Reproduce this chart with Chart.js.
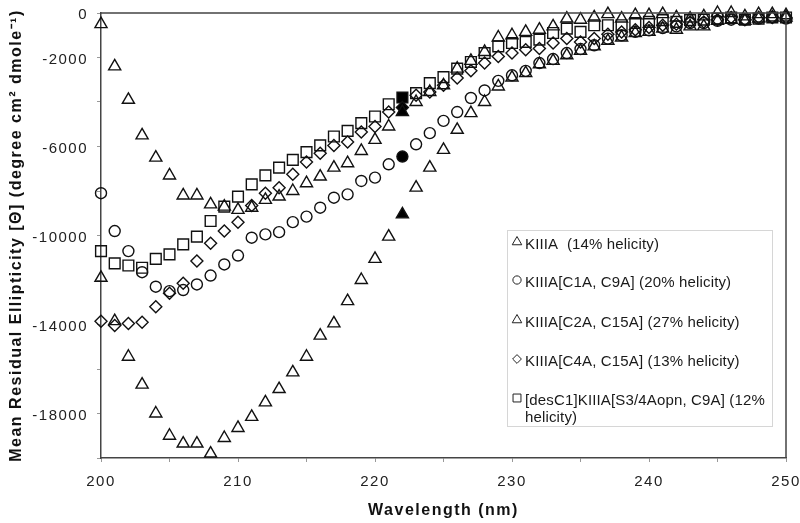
<!DOCTYPE html>
<html><head><meta charset="utf-8">
<script src="https://cdn.jsdelivr.net/npm/chart.js@4/dist/chart.umd.min.js"></script>
<style>html,body{margin:0;padding:0;background:#fff}</style>
</head><body>
<canvas id="c" width="800" height="523"></canvas>
<script>
// ---- data ----
const wavelengths = [200,201,202,203,204,205,206,207,208,209,210,211,212,213,214,215,216,217,218,219,220,
  221,222,223,224,225,226,227,228,229,230,231,232,233,234,235,236,237,238,239,240,
  241,242,243,244,245,246,247,248,249,250];

const kiiia = [-500,-2400,-3900,-5500,-6500,-7300,-8200,-8200,-8600,-8700,-8850,
  -8750,-8400,-8250,-8000,-7650,-7350,-6950,-6750,-6200,-5700,
  -5100,-4450,-4000,-3550,-3250,-2500,-2150,-1750,-1100,-1000,
  -850,-750,-600,-250,-300,-200,-50,-250,-100,-100,
  -50,-200,-250,-150,0,0,-150,-50,-50,-100];

const c1aC9a = [-8100,-9800,-10700,-11650,-12300,-12500,-12450,-12200,-11800,-11300,-10900,
  -10100,-9950,-9850,-9400,-9150,-8750,-8300,-8150,-7550,-7400,
  -6800,-6450,-5900,-5400,-4850,-4450,-3820,-3480,-3050,-2800,
  -2600,-2250,-2070,-1800,-1620,-1450,-1150,-1000,-850,-780,
  -680,-600,-450,-450,-350,-300,-300,-250,-200,-250];

const c2aC15a = [-11900,-13850,-15450,-16700,-18000,-19000,-19350,-19350,-19800,-19100,-18650,
  -18150,-17500,-16900,-16150,-15450,-14500,-13950,-12950,-12000,-11050,
  -10050,-9050,-7850,-6950,-6150,-5250,-4500,-4000,-3300,-2900,
  -2700,-2300,-2150,-1900,-1700,-1500,-1250,-1100,-900,-850,
  -700,-750,-600,-600,-350,-300,-350,-250,-200,-200];

const c4aC15a = [-13850,-14050,-13950,-13900,-13200,-12600,-12150,-11150,-10350,-9800,-9400,
  -8650,-8100,-7850,-7250,-6700,-6300,-5950,-5800,-5350,-5100,
  -4450,-4250,-3700,-3550,-3250,-2920,-2600,-2250,-1950,-1800,
  -1650,-1600,-1350,-1150,-1300,-1150,-950,-850,-750,-650,
  -550,-500,-400,-400,-300,-200,-300,-200,-200,-200];

const desC1 = [-10700,-11250,-11350,-11450,-11050,-10850,-10400,-10050,-9350,-8700,-8250,
  -7700,-7300,-6950,-6600,-6250,-5950,-5550,-5300,-4950,-4650,
  -4100,-3800,-3600,-3150,-2880,-2500,-2200,-1800,-1500,-1350,
  -1300,-1200,-900,-700,-850,-550,-550,-550,-450,-400,
  -320,-400,-320,-300,-250,-200,-300,-250,-200,-200];

const seriesNames = [
  ['KIIIA  (14% helicity)'],
  ['KIIIA[C1A, C9A] (20% helicity)'],
  ['KIIIA[C2A, C15A] (27% helicity)'],
  ['KIIIA[C4A, C15A] (13% helicity)'],
  ['[desC1]KIIIA[S3/4Aopn, C9A] (12%', 'helicity)']
];
const seriesValues = [kiiia, c1aC9a, c2aC15a, c4aC15a, desC1];
const seriesMarkers = ['triangle', 'circle', 'triangle', 'rectRot', 'rect'];
const highlightWavelength = 222;

const xTickLabels = [200, 210, 220, 230, 240, 250];
const yTickLabels = [0, -2000, -6000, -10000, -14000, -18000];

// ---- styles ----
const FONT = 'Arial, "Liberation Sans", sans-serif';
const markerRadius = {triangle: 7, circle: 5.5, rectRot: 6, rect: 7.6};

const datasets = seriesValues.map((vals, s) => ({
  label: seriesNames[s].join(' '),
  data: wavelengths.map((w, i) => ({x: w, y: vals[i]})),
  pointStyle: seriesMarkers[s],
  pointRadius: markerRadius[seriesMarkers[s]],
  pointHoverRadius: markerRadius[seriesMarkers[s]],
  borderColor: '#111',
  borderWidth: 1.4,
  backgroundColor: ctx => (ctx.raw && ctx.raw.x === highlightWavelength) ? '#000' : 'rgba(0,0,0,0)',
  showLine: false,
  clip: false
}));

function drawMarker(ctx, style, x, y, r) {
  ctx.beginPath();
  if (style === 'triangle') {
    ctx.moveTo(x, y - r);
    ctx.lineTo(x + r * Math.sin(2*Math.PI/3), y - r * Math.cos(2*Math.PI/3));
    ctx.lineTo(x + r * Math.sin(4*Math.PI/3), y - r * Math.cos(4*Math.PI/3));
    ctx.closePath();
  } else if (style === 'circle') {
    ctx.arc(x, y, r * 0.75, 0, Math.PI * 2);
  } else if (style === 'rectRot') {
    ctx.moveTo(x, y - r * 0.8); ctx.lineTo(x + r * 0.8, y);
    ctx.lineTo(x, y + r * 0.8); ctx.lineTo(x - r * 0.8, y);
    ctx.closePath();
  } else {
    const h = r * 0.72;
    ctx.rect(x - h, y - h, 2 * h, 2 * h);
  }
  ctx.stroke();
}

const frameAndLegend = {
  id: 'frameAndLegend',
  beforeDraw(chart) {
    chart.ctx.letterSpacing = '1.5px';
  },
  afterDraw(chart) {
    const ctx = chart.ctx, a = chart.chartArea;
    ctx.letterSpacing = '0px';
    ctx.save();
    // frame top/right
    ctx.strokeStyle = '#444'; ctx.lineWidth = 1.5;
    ctx.beginPath();
    ctx.moveTo(a.left, a.top); ctx.lineTo(a.right, a.top); ctx.lineTo(a.right, a.bottom);
    ctx.stroke();
    // legend box
    const bx = a.right - 279, by = a.top + 217, bw = 265, bh = 196;
    ctx.strokeStyle = '#d6d6d6'; ctx.lineWidth = 1;
    ctx.strokeRect(bx + 0.5, by + 0.5, bw, bh);
    const rowY = [245, 283, 323, 362, 401];
    ctx.font = '15px ' + FONT;
    ctx.letterSpacing = '0.15px';
    ctx.fillStyle = '#1a1a1a';
    ctx.textBaseline = 'middle';
    ctx.textAlign = 'left';
    seriesNames.forEach((lines, s) => {
      const y = rowY[s];
      ctx.strokeStyle = '#222'; ctx.lineWidth = 1;
      drawMarker(ctx, seriesMarkers[s], bx + 10, y - 3, 5.5);
      lines.forEach((t, k) => ctx.fillText(t, bx + 18, y + k * 17));
    });
    ctx.restore();
  }
};

new Chart(document.getElementById('c'), {
  type: 'scatter',
  data: {datasets},
  plugins: [frameAndLegend],
  options: {
    responsive: false,
    devicePixelRatio: 1,
    animation: false,
    layout: {padding: {top: 13, right: 14, left: 0, bottom: 0}},
    plugins: {legend: {display: false}, tooltip: {enabled: false}},
    scales: {
      x: {
        type: 'linear', min: 200, max: 250,
        afterFit: s => { s.height = 65; s.paddingLeft = 0; s.paddingRight = 0; },
        ticks: {
          stepSize: 5, autoSkip: false, maxRotation: 0, padding: 11,
          color: '#222', font: {family: FONT, size: 15},
          callback: v => xTickLabels.includes(v) ? String(v) : ''
        },
        grid: {drawOnChartArea: false, drawTicks: true, tickLength: 4, tickColor: '#999'},
        border: {display: true, color: '#444', width: 1.5},
        title: {display: true, text: 'Wavelength (nm)', color: '#111',
          font: {family: FONT, size: 16, weight: 'bold'}, padding: {top: 0, bottom: 3}}
      },
      y: {
        type: 'linear', min: -20000, max: 0,
        afterFit: s => { s.width = 101; s.paddingTop = 0; s.paddingBottom = 0; },
        ticks: {
          stepSize: 2000, autoSkip: false, padding: 9, labelOffset: 2,
          color: '#222', font: {family: FONT, size: 15},
          callback: v => yTickLabels.includes(v) ? String(v) : ''
        },
        grid: {drawOnChartArea: false, drawTicks: true, tickLength: 4, tickColor: '#999'},
        border: {display: true, color: '#444', width: 1.5},
        title: {display: true, text: 'Mean Residual Ellipticity [Θ] (degree cm² dmole⁻¹)', color: '#111',
          font: {family: FONT, size: 16, weight: 'bold'}, padding: {top: 7, bottom: 0}}
      }
    }
  }
});
</script>
</body></html>
